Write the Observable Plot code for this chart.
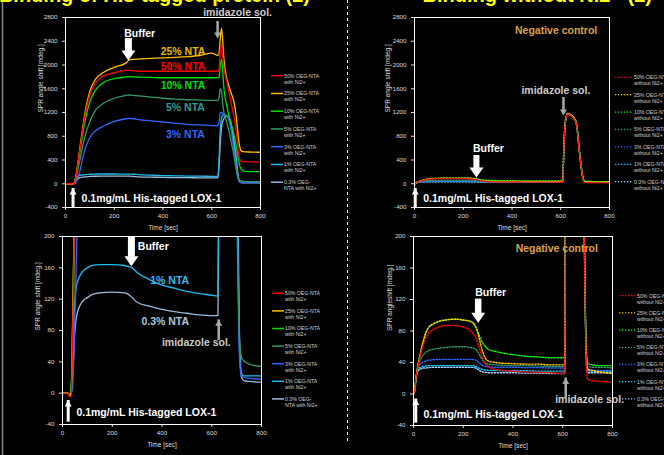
<!DOCTYPE html>
<html><head><meta charset="utf-8">
<script src="https://cdn.jsdelivr.net/npm/d3@7"></script>
<script src="https://cdn.jsdelivr.net/npm/@observablehq/plot@0.6"></script>
<style>
html,body{margin:0;padding:0;background:#000;}
#root{position:relative;width:664px;height:455px;overflow:hidden;background:#000;font-family:"Liberation Sans",Arial,sans-serif;}
.panel{position:absolute;width:332px;}
.panel svg{display:block;max-width:none;}
</style></head><body><div id="root"></div>
<script>
// ---------- data: with Ni2+ ----------
const tWith = [0,20,30,35,40,45,50,55,60,70, 80,100,120,150,200,250,260,280,300,350, 400,450,500,550,600,625,630,635,640,645, 650,660,670,680,690,700,705,710,715,720, 730,750,800];
const with50 = [0,0,-5,-3,60,150,300,450,600,880, 1150,1500,1680,1800,1870,1910,1910,1900,1895,1895, 1895,1895,1895,1895,1895,1895,1930,2250,2350,2150, 1950,1750,1550,1350,1150,900,700,520,420,380, 372,370,370];
const with25 = [0,0,-3,0,80,180,330,480,640,920, 1200,1560,1740,1860,1960,2040,2080,2095,2100,2110, 2120,2130,2140,2160,2200,2160,2200,2450,2620,2400, 2100,1800,1650,1520,1400,1150,950,750,620,560, 540,535,530];
const with10 = [0,0,-2,10,80,170,300,430,560,820, 1050,1380,1560,1690,1770,1800,1805,1800,1795,1790, 1785,1785,1785,1785,1785,1785,1800,2000,2100,1900, 1600,1350,1150,1000,850,650,520,400,300,250, 215,205,205];
const with5 = [0,0,-2,5,50,120,220,320,420,620, 800,1050,1220,1340,1440,1490,1495,1490,1480,1460, 1440,1425,1415,1410,1405,1405,1450,1600,1560,1350, 1200,1050,900,700,500,250,150,80,55,45, 41,37,34];
const with3 = [0,0,-3,0,5,40,100,160,230,420, 580,780,880,960,1050,1095,1100,1095,1080,1060, 1040,1020,1000,990,980,980,1050,1200,1200,1180, 1160,1150,1080,900,600,300,150,60,30,22, 20,19,18];
const with1 = [0,0,-2,5,40,90,120,135,142,150, 155,160,163,164,164,163,162,160,154,145, 138,134,130,127,125,124,400,900,1100,1150, 1160,1150,1100,950,700,400,200,80,35,25, 22,22,22];
const with03 = [0,0,-2,3,20,50,80,95,103,112, 117,122,126,128,129,128,127,122,116,111, 107,104,102,100,99,99,300,700,950,1050, 1100,1140,1120,1000,750,450,250,100,40,20, 16,15,14];

// ---------- data: without Ni2+ ----------
const tWithout = [0,5,10,15,20,30,40,50,60,80, 100,130,160,200,230,250,260,270,280,290, 300,330,360,400,450,500,550,600,608,612, 615,620,628,640,655,665,675,685,692,697, 700,720,750,800];
const wo50 = [0,5,20,30,38,52,63,72,77,82, 85,87,87,85,80,72,64,53,44,38, 35,31,30,29,28,27.5,27,26,26,470, 790,1075,1175,1150,1090,990,600,250,80,25, 19,17,16,15];
const wo25 = [0,5,20,32,40,55,68,78,84,89, 92,94,95,94,92,85,76,63,52,45, 42,40,39,38.5,38,38,37,37,37,480, 800,1070,1180,1165,1105,1000,600,250,85,38, 32,30,28,26];
const wo10 = [0,5,20,32,40,55,68,78,84,89, 92,94,95,94,92,86,78,70,64,60, 57,54,52,50,48,47,46,46,46,500, 820,1080,1185,1160,1100,1010,620,260,90,45, 39,37,36,36];
const wo5 = [0,5,20,30,37,45,50,53,55,57, 58,59,60,60,59,57,53,47,42,39, 38,37,36.5,36,36,35.5,35,35,35,490, 810,1080,1180,1155,1095,1000,610,255,85,38, 35,34,34,33];
const wo3 = [0,5,20,30,35,39,41,42,43,43.5, 44,44,44,44,44,43,41,38,36,35, 34.5,34,34,34,33.5,33.5,33,33,33,480, 800,1075,1180,1160,1100,1005,615,255,82,35, 31,30,30,30];
const wo1 = [0,5,20,29,32,34,35,35.5,36,36, 36,36,36,36,36,35,33.5,32,31,30.5, 30,30,29.5,29.5,29.5,29,29,29,29,485, 805,1080,1185,1160,1100,1000,610,250,80,32, 30,29,29,29];
const wo03 = [0,5,18,27,30,32,33,33,33.5,34, 34,34,34,34,34,33,31,29,28,27.5, 27,27,27,27,26.5,26.5,26,26,26,470, 795,1070,1175,1155,1095,995,600,245,78,28, 27,27,27,27];

// ---------- labels / ticks ----------
const xTicks = [0,200,400,600,800];
const yTicksTop = [-400,0,400,800,1200,1600,2000,2400,2800];
const yTicksBottom = [-40,0,40,80,120,160,200];
const legendWith = [["50% OEG-NTA","with Ni2+"],["25% OEG-NTA","with Ni2+"],["10% OEG-NTA","with Ni2+"],["5% OEG-NTA","with Ni2+"],["3% OEG-NTA","with Ni2+"],["1% OEG-NTA","with Ni2+"],["0.3% OEG-","NTA with Ni2+"]];
const legendWithout = [["50% OEG-NTA","without Ni2+"],["25% OEG-NTA","without Ni2+"],["10% OEG-NTA","without Ni2+"],["5% OEG-NTA","without Ni2+"],["3% OEG-NTA","without Ni2+"],["1% OEG-NTA","without Ni2+"],["0.3% OEG-NTA","without Ni2+"]];
const titles = ["Binding of His-tagged protein (2)", "Binding without Ni2+ (2)"];

// ---------- styles ----------
const colorsWith = ["#ff0000","#ffc000","#00dd00","#339966","#3366ff","#22bbee","#99bbdd"];
const colorsWithout = ["#ff0000","#ffcc00","#00ff00","#339966","#3366ff","#00ccff","#aaccff"];
const FONT = "'Liberation Sans', Arial, sans-serif";
const GRAY = "#aaaaaa", LGRAY = "#cccccc", GOLD = "#dba24b";

const seriesWith = [with50,with25,with10,with5,with3,with1,with03].map((v,i)=>({values:v,color:colorsWith[i]}));
const seriesWithout = [wo50,wo25,wo10,wo5,wo3,wo1,wo03].map((v,i)=>({values:v,color:colorsWithout[i]}));

function headSymbol(hw, hl, down){
  const s = down ? -1 : 1;
  return {draw(ctx){ ctx.moveTo(0,0); ctx.lineTo(-hw, s*hl); ctx.lineTo(hw, s*hl); ctx.closePath(); }};
}

const panels = [
  { left:0, top:0, width:332, height:235, m:[17,72,28,65], yDomain:[-400,2800], yTicks:yTicksTop,
    yLabel:"SPR angle shift [mdeg.]", yDx:-25, times:tWith, series:seriesWith, dotted:false,
    texts:[
      {x:706,y:2884,text:"imidazole sol.",fill:LGRAY},
      {x:304,y:2530,text:"Buffer",fill:"#ffffff"},
      {x:482,y:2227,text:"25% NTA",fill:"#e6b800"},
      {x:482,y:1975,text:"50% NTA",fill:"#ff0000"},
      {x:482,y:1655,text:"10% NTA",fill:"#00dd00"},
      {x:492,y:1284,text:"5% NTA",fill:"#339999"},
      {x:492,y:830,text:"3% NTA",fill:"#3366ff"},
      {x:66,y:-248,text:"0.1mg/mL His-tagged LOX-1",fill:"#ffffff",anchor:"start"}
    ],
    arrows:[
      {x:624,tail:2733,tip:2446,w:2.5,hw:3.5,hl:6,color:GRAY},
      {x:258,tail:2446,tip:2076,w:7,hw:7,hl:10,color:"#ffffff"},
      {x:31,tail:-333,tip:-80,w:3,hw:3.5,hl:6,color:"#ffffff"}
    ]},
  { left:332, top:0, width:332, height:235, m:[17,55,28,82], yDomain:[-400,2800], yTicks:yTicksTop,
    yLabel:"SPR angle shift [mdeg.]", yDx:-27, times:tWithout, series:seriesWithout, dotted:true,
    texts:[
      {x:581,y:2581,text:"Negative control",fill:GOLD},
      {x:580,y:1571,text:"imidazole sol.",fill:LGRAY},
      {x:303,y:594,text:"Buffer",fill:"#ffffff"},
      {x:36,y:-248,text:"0.1mg/mL His-tagged LOX-1",fill:"#ffffff",anchor:"start"}
    ],
    arrows:[
      {x:611,tail:1453,tip:1150,w:2.5,hw:3.5,hl:6,color:GRAY},
      {x:254,tail:476,tip:105,w:6,hw:7,hl:10,color:"#ffffff"},
      {x:3,tail:-333,tip:-80,w:3,hw:3.5,hl:6,color:"#ffffff"}
    ]},
  { left:0, top:225, width:332, height:230, m:[11,71,31,62], yDomain:[-40,200], yTicks:yTicksBottom,
    yLabel:"SPR angle shift [mdeg.]", yDx:-25, times:tWith, series:seriesWith, dotted:false,
    texts:[
      {x:365,y:187.6,text:"Buffer",fill:"#ffffff"},
      {x:431,y:143.8,text:"1% NTA",fill:"#33bbee"},
      {x:413,y:91.9,text:"0.3% NTA",fill:"#b0c8dc"},
      {x:538,y:65,text:"imidazole sol.",fill:LGRAY},
      {x:56,y:-25,text:"0.1mg/mL His-tagged LOX-1",fill:"#ffffff",anchor:"start"}
    ],
    arrows:[
      {x:277,tail:199,tip:162,w:7,hw:7,hl:10,color:"#ffffff"},
      {x:628,tail:73.6,tip:93.6,w:2.5,hw:3.5,hl:6,color:GRAY},
      {x:23,tail:-30.7,tip:-9.4,w:3,hw:3.5,hl:6,color:"#ffffff"}
    ]},
  { left:332, top:225, width:332, height:230, m:[11,52,30,81], yDomain:[-40,200], yTicks:yTicksBottom,
    yLabel:"SPR angleshift [mdeg.]", yDx:-24, times:tWithout, series:seriesWithout, dotted:true,
    texts:[
      {x:576,y:184.3,text:"Negative control",fill:GOLD},
      {x:310,y:128.9,text:"Buffer",fill:"#ffffff"},
      {x:708,y:-7.2,text:"imidazole sol.",fill:LGRAY},
      {x:40,y:-26,text:"0.1mg/mL His-tagged LOX-1",fill:"#ffffff",anchor:"start"}
    ],
    arrows:[
      {x:260,tail:120.5,tip:90.6,w:6.5,hw:7,hl:10,color:"#ffffff"},
      {x:612,tail:1.2,tip:20.4,w:2.5,hw:3.5,hl:6,color:GRAY},
      {x:9,tail:-30.7,tip:-6.4,w:3,hw:3.5,hl:6,color:"#ffffff"}
    ]}
];

const root = document.getElementById("root");

panels.forEach(cfg => {
  const marks = [];
  cfg.series.slice().reverse().forEach(s => {
    const rows = cfg.times.map((t,i)=>({t, v:s.values[i]}));
    marks.push(Plot.line(rows, {x:"t", y:"v", stroke:s.color,
      strokeWidth: cfg.dotted ? 1.4 : 1.3,
      strokeDasharray: cfg.dotted ? "1.4,1.6" : undefined,
      curve:"monotone-x", clip:true}));
  });
  marks.push(Plot.frame({stroke:"#ffffff"}));
  marks.push(Plot.text([cfg.yLabel], {text:d=>d, frameAnchor:"left", rotate:-90, dx:cfg.yDx, fontSize:6.5, fill:"#dddddd"}));
  marks.push(Plot.text(["Time [sec]"], {text:d=>d, frameAnchor:"bottom", dy:22, fontSize:6.5, fill:"#dddddd"}));
  cfg.arrows.forEach(a => {
    const down = a.tip < a.tail;
    const inset = down ? {insetBottom:a.hl-1} : {insetTop:a.hl-1};
    marks.push(Plot.ruleX([a.x], {y1:a.tail, y2:a.tip, stroke:a.color, strokeWidth:a.w, ...inset}));
    marks.push(Plot.dot([a], {x:"x", y:"tip", r:5, symbol:headSymbol(a.hw, a.hl, down), fill:a.color, stroke:"none"}));
  });
  cfg.texts.forEach(a => {
    marks.push(Plot.text([a], {x:"x", y:"y", text:"text", fill:a.fill, fontSize:10.5, fontWeight:"bold", textAnchor:a.anchor || "middle"}));
  });
  const chart = Plot.plot({
    width:cfg.width, height:cfg.height,
    marginTop:cfg.m[0], marginRight:cfg.m[1], marginBottom:cfg.m[2], marginLeft:cfg.m[3],
    style:{background:"transparent", color:"#dddddd", fontSize:"6.2px", fontFamily:FONT, overflow:"visible"},
    x:{domain:[0,800], ticks:xTicks, tickSize:3, tickPadding:3, tickFormat:d=>String(d), label:null},
    y:{domain:cfg.yDomain, ticks:cfg.yTicks, tickSize:3, tickPadding:5, tickFormat:d=>String(d), label:null},
    marks
  });
  const div = document.createElement("div");
  div.className = "panel";
  div.style.left = cfg.left + "px";
  div.style.top = cfg.top + "px";
  div.appendChild(chart);
  root.appendChild(div);
});

// ---------- overlay: decorations, titles, legends ----------
const ov = d3.select(root).append("svg")
  .attr("width",664).attr("height",455)
  .style("position","absolute").style("left","0px").style("top","0px")
  .style("pointer-events","none").style("font-family",FONT);

ov.append("line").attr("x1",2.5).attr("x2",2.5).attr("y1",0).attr("y2",455).attr("stroke","#8a8a8a").attr("stroke-width",1.5);
ov.append("line").attr("x1",347.5).attr("x2",347.5).attr("y1",0).attr("y2",442).attr("stroke","#ffffff").attr("stroke-width",1).attr("stroke-dasharray","3,3");

[[titles[0],310],[titles[1],652]].forEach(([t,x]) => {
  ov.append("text").attr("x",x).attr("y",2.3).attr("text-anchor","end")
    .attr("font-size",20).attr("font-weight","bold").attr("fill","#ffff00").text(t);
});

function drawLegend(x1, x2, xt, y0, step, labels, colors, dotted){
  labels.forEach((lab,i) => {
    const y = y0 + step*i;
    ov.append("line").attr("x1",x1).attr("x2",x2).attr("y1",y).attr("y2",y)
      .attr("stroke",colors[i]).attr("stroke-width",dotted ? 1.3 : 1.5)
      .attr("stroke-dasharray", dotted ? "1.3,1.7" : null);
    const t = ov.append("text").attr("font-size",5.2).attr("fill","#d0d0d0");
    t.append("tspan").attr("x",xt).attr("y",y).attr("dy","0.35em").text(lab[0]);
    t.append("tspan").attr("x",xt).attr("y",y+6).attr("dy","0.35em").text(lab[1]);
  });
}
drawLegend(271, 283, 284, 75.7, 17.75, legendWith, colorsWith, false);
drawLegend(272, 284, 285, 293.3, 17.6, legendWith, colorsWith, false);
drawLegend(615, 632, 634, 77.3, 17.4, legendWithout, colorsWithout, true);
drawLegend(619, 635, 637, 295.7, 17.2, legendWithout, colorsWithout, true);
</script>
</body></html>
